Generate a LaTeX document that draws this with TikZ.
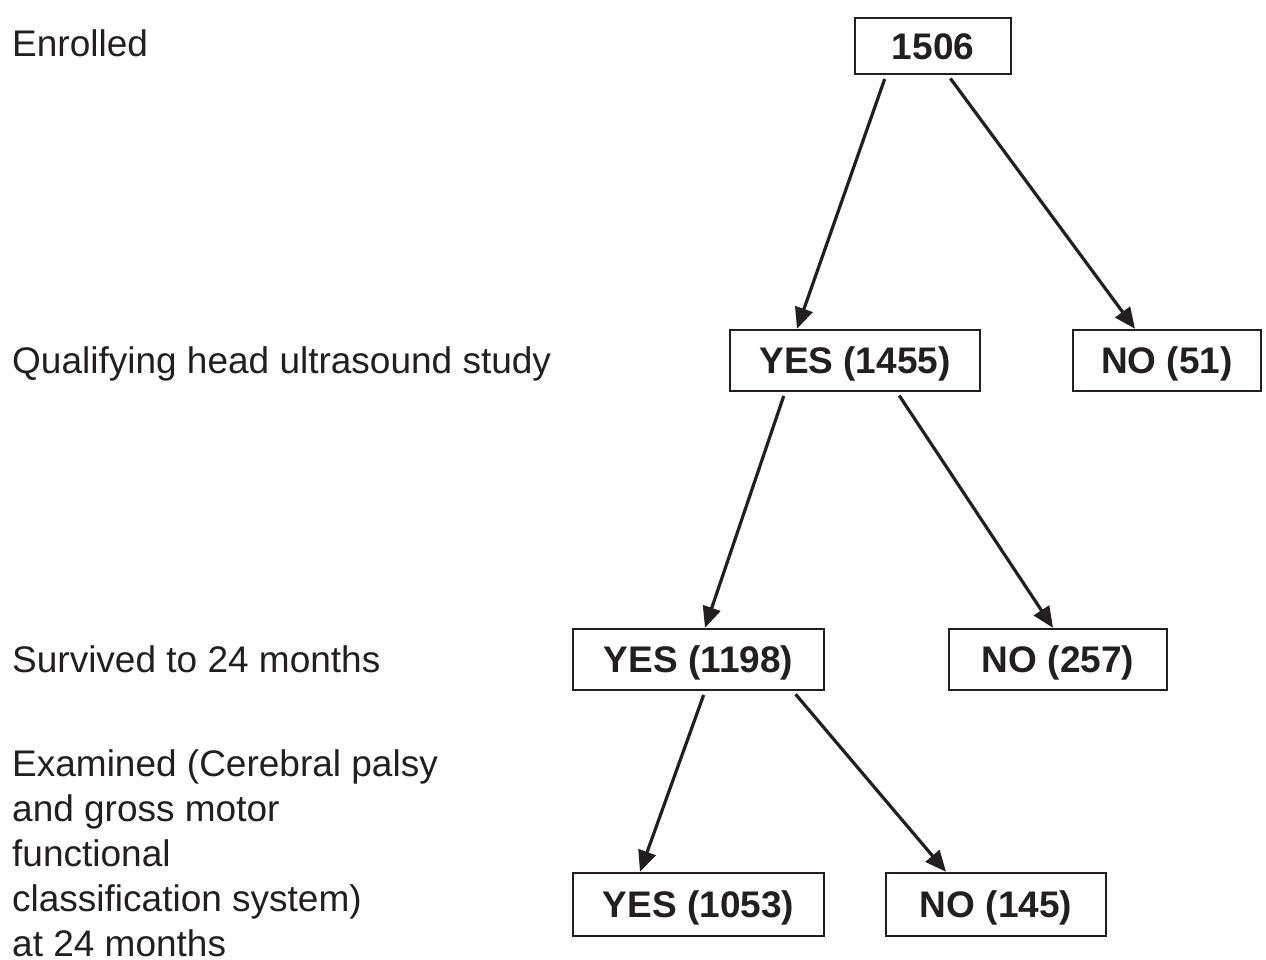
\documentclass[tikz,border=0pt]{standalone}
\usepackage{fontspec}
\setmainfont{Liberation Sans}
\usetikzlibrary{arrows.meta}
\definecolor{ink}{HTML}{231F20}
\begin{document}
\begin{tikzpicture}[x=1pt,y=-1pt,
  box/.style={draw=ink,line width=2.4pt,inner sep=0pt,text=ink,
    text height=26.5pt,text depth=0pt,
    font=\fontsize{37}{44}\selectfont\bfseries},
  lab/.style={inner sep=0pt,text=ink,align=left,
    font=\fontsize{37}{45}\selectfont},
  arr/.style={draw=ink,line width=3.2pt,shorten <=4pt,
    -{Triangle[length=21pt,width=18pt]}}]
\useasboundingbox[fill=white] (0,0) rectangle (1266,960);
% boxes
\node[box,minimum width=156pt,minimum height=56pt] (n1506) at (933,46) {1506};
\node[box,minimum width=250pt,minimum height=61pt] (y1455) at (855,360.5) {YES (1455)};
\node[box,minimum width=188pt,minimum height=61pt] (n51) at (1167,360.5) {NO (51)};
\node[box,minimum width=251pt,minimum height=61pt] (y1198) at (698.5,659.5) {YES (1198)};
\node[box,minimum width=218pt,minimum height=61pt] (n257) at (1058,659.5) {NO (257)};
\node[box,minimum width=251pt,minimum height=63pt] (y1053) at (698.5,904.5) {YES (1053)};
\node[box,minimum width=220pt,minimum height=63pt] (n145) at (996,904.5) {NO (145)};
% labels
\node[lab,anchor=base west] (l1) at (12,57) {Enrolled};
\node[lab,anchor=base west] (l2) at (12,373) {Qualifying head ultrasound study};
\node[lab,anchor=base west] (l3) at (12,672) {Survived to 24 months};
\node[lab,anchor=north west] (l4) at (12,749) {Examined (Cerebral palsy\\and gross motor\\functional\\classification system)\\at 24 months};
% arrows
\draw[arr] ([xshift=-47pt]n1506.south) -- ([xshift=-58pt]y1455.north);
\draw[arr] ([xshift=15pt]n1506.south) -- ([xshift=-32pt]n51.north);
\draw[arr] ([xshift=-70pt]y1455.south) -- ([xshift=6.5pt]y1198.north);
\draw[arr] ([xshift=42pt]y1455.south) -- ([xshift=-5pt]n257.north);
\draw[arr] ([xshift=6.5pt]y1198.south) -- ([xshift=-58.5pt]y1053.north);
\draw[arr] ([xshift=94.5pt]y1198.south) -- ([xshift=-50pt]n145.north);
\end{tikzpicture}
\end{document}
